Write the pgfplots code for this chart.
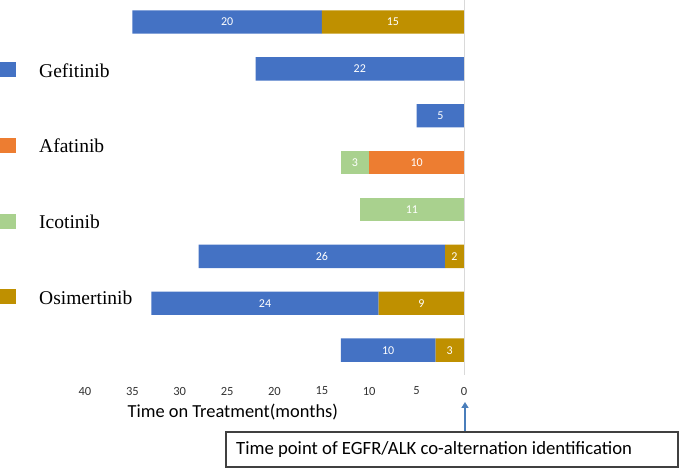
\documentclass[border=0pt]{standalone}
\usepackage{fontspec}
\setmainfont{Carlito}
\newfontfamily\legfont{Liberation Serif}
\usepackage{pgfplots}
\usepackage{pgfplotstable}
\pgfplotsset{compat=1.18}
\usetikzlibrary{arrows.meta}

\definecolor{gef}{HTML}{4472C4}
\definecolor{afa}{HTML}{ED7D31}
\definecolor{ico}{HTML}{A9D18E}
\definecolor{osi}{HTML}{BF9000}
\definecolor{arrowblue}{HTML}{4A7EBB}

% one row per patient, from the top; segments listed from 0 outwards
\pgfplotstableread{
row osiIn afaIn icoIn gef icoOut
1   15    0     0     20  0
2   0     0     0     22  0
3   0     0     0     5   0
4   0     10    0     0   3
5   0     0     11    0   0
6   2     0     0     26  0
7   9     0     0     24  0
8   3     0     0     10  0
}\treat

% segment labels, at the middle of each segment
\pgfplotstableread{
mid  row lab
25   1   20
7.5  1   15
11   2   22
2.5  3   5
5    4   10
11.5 4   3
5.5  5   11
15   6   26
1    6   2
21   7   24
4.5  7   9
8    8   10
1.5  8   3
}\labels

\pgfplotsset{
  frame/.style={
    at={(85pt,95pt)}, anchor=south west,
    scale only axis, width=379pt, height=375pt,
    x dir=reverse, y dir=reverse,
    xmin=0, xmax=40, ymin=0.53, ymax=8.53,
  },
}

\begin{document}
\begin{tikzpicture}
\useasboundingbox (0,0) rectangle (685pt,470pt);
\begin{axis}[
  frame,
  xbar stacked, bar width=0.5,
  xtick={0,5,...,40}, ytick=\empty,
  major tick length=0pt,
  axis line style={draw=none},
  extra x ticks={0}, extra x tick labels={},
  extra x tick style={grid=major, major grid style={draw=black!15, line width=0.8pt}},
  /pgf/number format/assume math mode=true,
  xticklabel style={anchor=center, yshift=-16pt, font=\fontsize{12.5}{14}\selectfont, text=black!80},
  xlabel={Time on Treatment(months)},
  xlabel style={at={(axis description cs:0.39,-0.099)}, anchor=center, font=\fontsize{18.4}{22}\selectfont},
  legend image code/.code={\fill[#1] (0pt,0pt) rectangle (16pt,15pt); \path (39pt,0pt);},
  legend style={at={(axis description cs:-0.2243,0.8347)}, anchor=north west, draw=none, fill=none, inner sep=0pt, row sep=60.7pt, cells={anchor=base west}, nodes={inner sep=0pt, text depth=0pt}, font=\legfont\fontsize{19.5}{22}\selectfont},
]
\addplot[fill=osi, draw=none, forget plot] table[x=osiIn, y=row] {\treat};
\addplot[fill=afa, draw=none, forget plot] table[x=afaIn, y=row] {\treat};
\addplot[fill=ico, draw=none, forget plot] table[x=icoIn, y=row] {\treat};
\addplot[fill=gef, draw=none, forget plot] table[x=gef, y=row] {\treat};
\addplot[fill=ico, draw=none, forget plot] table[x=icoOut, y=row] {\treat};

\addlegendimage{fill=gef, draw=none}
\addlegendentry{Gefitinib}
\addlegendimage{fill=afa, draw=none}
\addlegendentry{Afatinib}
\addlegendimage{fill=ico, draw=none}
\addlegendentry{Icotinib}
\addlegendimage{fill=osi, draw=none}
\addlegendentry{Osimertinib}
\end{axis}

\begin{axis}[frame, hide axis]
\addplot[draw=none, mark=none, point meta=explicit symbolic,
  nodes near coords, nodes near coords align={anchor=center},
  every node near coord/.append style={text=white, inner sep=0pt, font=\fontsize{12}{14}\selectfont}]
  table[x=mid, y=row, meta=lab] {\labels};
\end{axis}

% annotation: arrow and box below the zero line
\draw[arrowblue, line width=1.8pt, -{Triangle[width=7pt,length=6pt]}] (465pt,37pt) -- (465pt,68pt);
\draw[black!75, line width=1.2pt, fill=white] (226pt,3pt) rectangle (678pt,38pt);
\node[anchor=west, inner sep=0pt, font=\fontsize{18.7}{21}\selectfont] at (236pt,20.5pt) {Time point of EGFR/ALK co-alternation identification};
\end{tikzpicture}
\end{document}
